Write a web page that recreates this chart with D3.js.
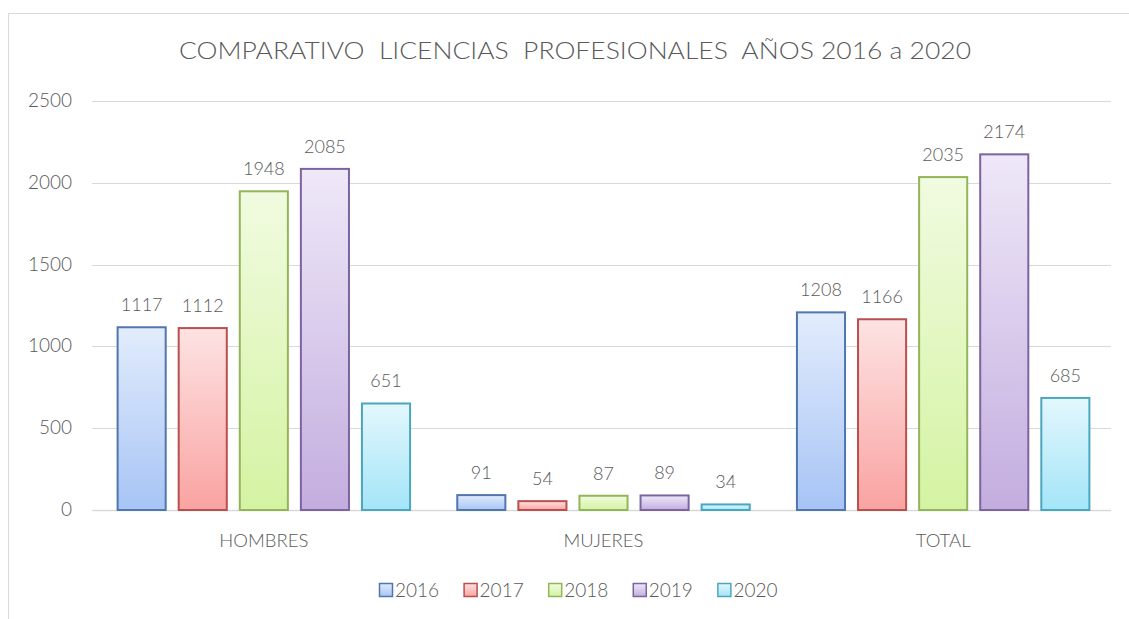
<!DOCTYPE html>
<html>
<head>
<meta charset="utf-8">
<script src="https://cdn.jsdelivr.net/npm/d3@7"></script>
<style>
  body { margin: 0; background: #fff; }
  svg text { font-family: Lato, "Open Sans", sans-serif; fill: #595959; font-weight: 300; }
</style>
</head>
<body>
<svg id="chart" width="1129" height="619"></svg>
<script>
// data
const categories = ["HOMBRES", "MUJERES", "TOTAL"];
const years = ["2016", "2017", "2018", "2019", "2020"];
const v2016 = [1117, 91, 1208];
const v2017 = [1112, 54, 1166];
const v2018 = [1948, 87, 2035];
const v2019 = [2085, 89, 2174];
const v2020 = [651, 34, 685];
const yTicks = [0, 500, 1000, 1500, 2000, 2500];

const seriesValues = [v2016, v2017, v2018, v2019, v2020];
// top colour, bottom colour, outline
const fills = [
  ["#e2ecfc", "#a7c4f5", "#4f76ad"],
  ["#fde3e3", "#f9a3a1", "#b9504d"],
  ["#f1fbe0", "#d4f3a2", "#93b55a"],
  ["#efe8f8", "#c3addf", "#7c64a0"],
  ["#e3f7fd", "#a3e5f8", "#4aa7bf"]
];

const svg = d3.select("#chart");
const margin = {left: 94, right: 16, top: 101, bottom: 109};
const W = 1129, H = 619;

// frame
svg.append("rect")
  .attr("x", 8.5).attr("y", 13.5)
  .attr("width", W + 10).attr("height", H + 10)
  .attr("fill", "none").attr("stroke", "#d9d9d9").attr("stroke-width", 1);

svg.append("text")
  .attr("x", 575).attr("y", 59)
  .attr("text-anchor", "middle")
  .attr("textLength", 792)
  .attr("lengthAdjust", "spacingAndGlyphs")
  .attr("xml:space", "preserve")
  .style("font-size", "23px")
  .text("COMPARATIVO  LICENCIAS  PROFESIONALES  AÑOS 2016 a 2020");

let y = d3.scaleLinear().domain([0, 2500]).range([H - margin.bottom, margin.top]);
let x0 = d3.scaleBand().domain(categories).range([margin.left, W - margin.right]);
let x1 = d3.scaleBand().domain(years).range([0, x0.bandwidth()])
  .paddingInner(0.18).paddingOuter(0.37);

// gridlines
svg.append("g").selectAll("line")
  .data(yTicks)
  .enter().append("line")
  .attr("x1", margin.left - 2).attr("x2", W - margin.right - 2)
  .attr("y1", d => Math.round(y(d)) + 0.5).attr("y2", d => Math.round(y(d)) + 0.5)
  .attr("stroke", "#d9d9d9")
  .attr("stroke-width", d => d === 0 ? 1.5 : 1);

svg.append("g").selectAll("text")
  .data(yTicks)
  .enter().append("text")
  .attr("x", 72).attr("y", d => y(d) + 6)
  .attr("text-anchor", "end")
  .style("font-size", "19px")
  .text(d => d);

// gradients
const defs = svg.append("defs");
fills.forEach((f, i) => {
  const g = defs.append("linearGradient")
    .attr("id", "grad" + i)
    .attr("x1", 0).attr("y1", 0).attr("x2", 0).attr("y2", 1);
  g.append("stop").attr("offset", "0%").attr("stop-color", f[0]);
  g.append("stop").attr("offset", "100%").attr("stop-color", f[1]);
});

// bars
const groups = svg.append("g").selectAll("g")
  .data(categories)
  .enter().append("g")
  .attr("transform", d => "translate(" + x0(d) + ",0)");

groups.each(function(cat, ci) {
  const g = d3.select(this);
  years.forEach((yr, si) => {
    const val = seriesValues[si][ci];
    g.append("rect")
      .attr("x", x1(yr) + 1)
      .attr("y", y(val))
      .attr("width", x1.bandwidth() - 2)
      .attr("height", y(0) - y(val))
      .attr("fill", "url(#grad" + si + ")")
      .attr("stroke", fills[si][2])
      .attr("stroke-width", 2);
    g.append("text")
      .attr("x", x1(yr) + x1.bandwidth() / 2)
      .attr("y", y(val) - 16)
      .attr("text-anchor", "middle")
      .style("font-size", "18px")
      .text(val);
  });
  g.append("text")
    .attr("x", x0.bandwidth() / 2)
    .attr("y", 547)
    .attr("text-anchor", "middle")
    .style("font-size", "18.5px")
    .text(cat);
});

// legend
const legend = svg.append("g");
let lx = 379;
years.forEach((yr, i) => {
  legend.append("rect")
    .attr("x", lx + 0.5).attr("y", 583.5)
    .attr("width", 13).attr("height", 13)
    .attr("fill", "url(#grad" + i + ")")
    .attr("stroke", fills[i][2]).attr("stroke-width", 1.5);
  const t = legend.append("text")
    .attr("x", lx + 16).attr("y", 597)
    .style("font-size", "19px")
    .text(yr);
  lx += 16 + t.node().getComputedTextLength() + 24.5;
});
</script>
</body>
</html>
